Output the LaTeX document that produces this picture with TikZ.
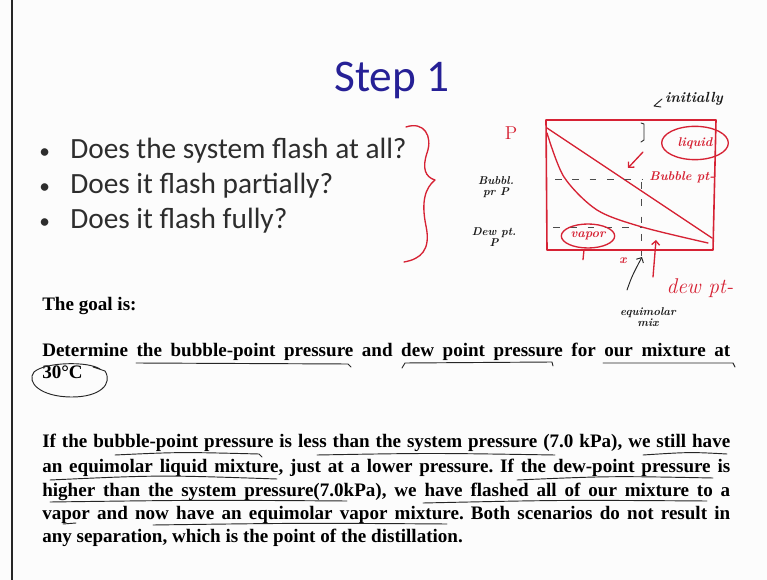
\documentclass[tikz,border=0pt]{standalone}
\usepackage{fontspec}
\newfontfamily\slidefont{Carlito}
\newfontfamily\bodyfont{Liberation Serif}
\usetikzlibrary{shapes.geometric,arrows.meta}
\definecolor{slideblue}{RGB}{38,32,150}
\definecolor{penred}{RGB}{214,34,52}
\definecolor{slidegray}{RGB}{45,45,45}
\newcommand{\jline}[1]{\makebox[516pt][s]{#1}}
\frenchspacing
\tikzset{
  redink/.style={draw=penred, line width=1pt, line cap=round, line join=round},
  blackink/.style={draw=black!85, line width=0.7pt, line cap=round, line join=round},
  dashline/.style={draw=black!70, line width=0.7pt, dash pattern=on 5pt off 8pt},
  bodytext/.style={anchor=base west, inner sep=0pt, font=\bodyfont\bfseries\fontsize{14.3}{17}\selectfont},
  bullettext/.style={anchor=base west, inner sep=0pt, text=slidegray, font=\slidefont\fontsize{22}{26}\selectfont},
  redhand/.style={text=penred, inner sep=1pt, font=\bfseries\itshape\fontsize{9.5}{9}\selectfont},
  blackhand/.style={text=black!90, inner sep=1pt, align=center, font=\bfseries\itshape\fontsize{8.5}{8}\selectfont}
}
\begin{document}
\begin{tikzpicture}[x=0.75pt, y=-0.75pt]
  \useasboundingbox (0,0) rectangle (767,580);
  \fill[black!1] (0,0) rectangle (767,580);
  \fill[black!85] (11,0) rectangle (13,580);

  % title and questions
  \node[anchor=base, inner sep=0pt, text=slideblue, font=\slidefont\fontsize{34}{40}\selectfont] (title) at (392,92) {Step 1};
  \foreach \i/\y/\t in {1/159/{Does the system flash at all?}, 2/194/{Does it flash partially?}, 3/229/{Does it flash fully?}} {
    \node[bullettext, font=\slidefont\fontsize{16}{20}\selectfont] (dot\i) at (39,\y) {•};
    \node[bullettext] (q\i) at (70,\y) {\t};
  }
  \draw[redink] (406,127) .. controls (424,121) and (433,136) .. (427,153)
    .. controls (422,168) and (425,177) .. (435,180)
    .. controls (425,188) and (421,202) .. (426,226)
    .. controls (431,250) and (421,259) .. (404,262);

  % P-x sketch
  \draw[redink, line width=1.2pt] (546,120) -- (716,120) -- (713,250) -- (547,250) -- cycle;
  \draw[redink] (547,128) -- (712,238);
  \draw[redink] plot[smooth] coordinates {(547,133) (564,177) (597,210) (642,227) (708,243)};
  \draw[dashline] (555,179) -- (642,179);
  \draw[dashline] (553,227) -- (642,227);
  \draw[dashline] (641,182) -- (641,256);
  \node[redhand, font=\fontsize{14}{14}\selectfont] (plabel) at (511,133) {P};
  \node[blackhand] (bubp) at (496,187) {Bubbl.\\pr P};
  \node[blackhand] (dewp) at (494,237) {Dew pt.\\P};
  \node[blackhand, font=\bfseries\itshape\fontsize{11}{10}\selectfont] (init) at (694,99) {initially};
  \draw[blackink] (662,99) -- (654,106) -- (661,107);
  \draw[blackink] (641,123) -- (644,124) -- (644,140) -- (641,142);
  \node[redhand] (bubpt) at (682,177) {Bubble pt-};
  \coordinate (bubhit) at (628,168);
  \draw[redink, -{Straight Barb[length=3pt]}] (643,152) -- (bubhit);
  \node[ellipse, redink, redhand, minimum width=50pt, minimum height=25pt] (liq) at (695,143) {liquid};
  \node[ellipse, redink, redhand, minimum width=40pt, minimum height=18pt] (vap) at (588,236) {vapor};
  \draw[redink] (vap.south) ++(-4,1) -- ++(-1,10);
  \node[redhand] (xlab) at (623,261) {x};
  \node[redhand, font=\itshape\fontsize{16}{16}\selectfont] (dewpt) at (700,288) {dew pt-};
  \coordinate (dewhit) at (656,240);
  \draw[redink, -{Straight Barb[length=3pt]}] (653,277) -- (dewhit);
  \node[blackhand] (equi) at (648,317) {equimolar\\mix};
  \coordinate (equihit) at (642,257);
  \draw[blackink, -{Straight Barb[length=3pt]}] (627,290) .. controls (632,276) .. (equihit);

  % goal text
  \node[bodytext] (goal) at (42,311) {The goal is:};
  \node[bodytext] (det) at (42,357) {\jline{Determine the bubble-point pressure and dew point pressure for our mixture at}};
  \node[bodytext] (temp) at (42,379) {30°C};
  \draw[blackink] (100,369) .. controls (88,361) and (45,362) .. (34,372)
    .. controls (26,382) and (40,397) .. (72,397)
    .. controls (100,397) and (113,384) .. (105,371) -- (93,367);
  \draw[blackink] (136,363) -- (348,364) -- (351,367);
  \draw[blackink] (402,368) -- (405,363) -- (552,362) -- (553,366);
  \draw[blackink] (603,363) -- (733,363) -- (735,367);

  % paragraph
  \node[bodytext] (p1) at (42,448) {\jline{If the bubble-point pressure is less than the system pressure (7.0 kPa), we still have}};
  \node[bodytext] (p2) at (42,472) {\jline{an equimolar liquid mixture, just at a lower pressure. If the dew-point pressure is}};
  \node[bodytext] (p3) at (42,496) {\jline{higher than the system pressure(7.0kPa), we have flashed all of our mixture to a}};
  \node[bodytext] (p4) at (42,519) {\jline{vapor and now have an equimolar vapor mixture. Both scenarios do not result in}};
  \node[bodytext] (p5) at (42,542) {any separation, which is the point of the distillation.};
  \draw[blackink] (115,455) .. controls (180,452) .. (259,454) -- (262,457);
  \draw[blackink] (317,455) .. controls (430,453) .. (555,455);
  \draw[blackink] (643,455) .. controls (690,452) .. (727,454);
  \draw[blackink] (50,480) .. controls (160,475) .. (277,479);
  \draw[blackink] (517,480) .. controls (610,476) .. (713,478);
  \draw[blackink] (50,502) .. controls (200,500) .. (347,501);
  \draw[blackink] (423,503) .. controls (560,500) .. (707,501);
  \draw[blackink] (63,524) -- (76,523);
  \draw[blackink] (153,525) .. controls (300,523) .. (447,524);
\end{tikzpicture}
\end{document}
